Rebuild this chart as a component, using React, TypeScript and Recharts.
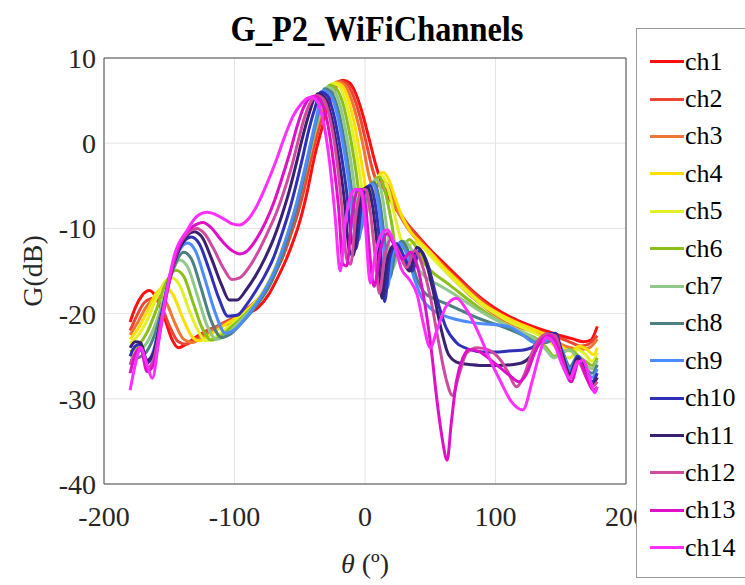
import React from 'react';
import { CartesianGrid, Label, Line, LineChart, ReferenceLine, XAxis, YAxis } from 'recharts';

type Pt = [number, number];

const channelNames = ['ch1', 'ch2', 'ch3', 'ch4', 'ch5', 'ch6', 'ch7', 'ch8', 'ch9', 'ch10', 'ch11', 'ch12', 'ch13', 'ch14'];
const channelColors = [
  '#ff1010', '#ee4433', '#ee7733', '#ffdd00', '#e2f028', '#8cbf1a', '#8fc88a',
  '#4d8080', '#4d8cff', '#2f2fb8', '#3a2070', '#d04aa0', '#e010c8', '#ff30ff',
];
const xTicks = [-200, -100, 0, 100, 200];
const yTicks = [-40, -30, -20, -10, 0, 10];

// theta (deg), gain (dB)
const ch1: Pt[] = [[-180,-21],[-176,-19.3],[-171,-17.9],[-165,-17.3],[-159,-18.4],[-153,-20.8],[-148,-23],[-143,-24],[-137,-23.6],[-130,-22.8],[-120,-21.9],[-110,-21.4],[-100,-21],[-90,-20],[-82,-19.3],[-74,-17.8],[-67,-15.8],[-60,-13.5],[-55,-11.5],[-50,-9.2],[-44,-5.5],[-39,-1.8],[-34,1.2],[-28,4.5],[-23,6.4],[-17,7.4],[-12,7.1],[-7,5.8],[-2,3.5],[3,0.6],[8,-2.4],[13,-4.8],[19,-6.6],[25,-8],[32,-9.4],[40,-10.8],[50,-12.5],[60,-14],[70,-15.5],[80,-17],[90,-18.3],[100,-19.4],[110,-20.3],[120,-21],[130,-21.6],[140,-22.1],[150,-22.6],[160,-23],[167,-23.3],[173,-23.1],[178,-21.5]];
const ch2: Pt[] = [[-180,-22],[-175,-20.3],[-169,-18.7],[-162,-18.2],[-156,-19.2],[-150,-21.4],[-143,-23.3],[-137,-23.6],[-130,-23],[-120,-22],[-110,-21.2],[-100,-20.4],[-92,-19.6],[-84,-18.6],[-76,-17.2],[-69,-15.3],[-62,-13],[-57,-10.8],[-52,-8.5],[-46,-5],[-41,-1.6],[-36,1.4],[-30,4.5],[-25,6.3],[-19,7.3],[-14,7],[-9,5.6],[-4,3.2],[1,0],[6,-3.2],[10,-4.8],[15,-5.3],[20,-6.4],[26,-8],[33,-9.6],[41,-11.1],[50,-12.7],[60,-14.3],[70,-15.8],[80,-17.2],[90,-18.5],[100,-19.7],[110,-20.6],[120,-21.3],[130,-21.9],[140,-22.4],[150,-22.9],[158,-23.4],[165,-23.8],[171,-23.6],[178,-22.6]];
const ch3: Pt[] = [[-180,-22.5],[-174,-21],[-168,-19.3],[-161,-18.2],[-157,-18],[-152,-18.8],[-146,-21],[-139,-23],[-132,-23.4],[-125,-22.8],[-115,-21.8],[-105,-21],[-95,-20.2],[-87,-19.2],[-79,-17.8],[-72,-16],[-65,-13.6],[-59,-11],[-54,-8.6],[-48,-5],[-43,-1.8],[-38,1.3],[-32,4.4],[-27,6.2],[-21,7.2],[-16,6.9],[-11,5.4],[-6,2.8],[-1,-0.6],[3,-3.8],[7,-5.4],[11,-4.8],[15,-4.5],[19,-5.4],[24,-7.6],[31,-9.6],[39,-11.2],[48,-12.7],[58,-14.4],[68,-16],[78,-17.5],[88,-18.8],[98,-20],[108,-20.9],[118,-21.6],[128,-22.1],[138,-22.6],[146,-23.2],[153,-23.8],[160,-24.1],[166,-24.2],[172,-24],[178,-23]];
const ch4: Pt[] = [[-180,-23],[-174,-21.8],[-167,-19.8],[-160,-17.6],[-153,-16.9],[-147,-17.8],[-140,-20.4],[-133,-22.6],[-127,-23.2],[-120,-22.6],[-110,-21.6],[-100,-20.6],[-92,-19.8],[-84,-18.6],[-76,-17],[-69,-14.8],[-63,-12.2],[-57,-9.6],[-51,-6.2],[-45,-2.4],[-40,0.6],[-34,3.9],[-29,6],[-23,7.1],[-18,6.8],[-13,5.2],[-8,2.2],[-3,-2],[1,-5.5],[4,-6.8],[8,-4.8],[11,-3.7],[14,-3.4],[18,-4.2],[23,-6.4],[29,-8.8],[35,-10.4],[42,-11.6],[50,-12.8],[60,-14.5],[70,-16],[80,-17.5],[90,-18.8],[100,-19.8],[110,-20.6],[120,-21.3],[130,-21.9],[140,-22.6],[146,-23.2],[152,-24],[158,-24.4],[164,-23.8],[170,-24.2],[175,-24.8],[178,-24]];
const ch5: Pt[] = [[-180,-23.5],[-174,-22.6],[-167,-20.8],[-160,-18.2],[-153,-16.2],[-148,-15.8],[-142,-16.7],[-135,-19.5],[-128,-22],[-122,-23.2],[-115,-22.8],[-106,-21.7],[-97,-20.6],[-88,-19.4],[-80,-17.9],[-73,-16],[-66,-13.6],[-60,-11],[-54,-8],[-48,-4.4],[-42,-0.8],[-36,3],[-31,5.5],[-25,7],[-20,6.7],[-15,5],[-10,1.8],[-5,-2.6],[-1,-6.5],[2,-7.6],[6,-5],[10,-3.9],[13,-3.8],[17,-5],[22,-8],[27,-11],[32,-12.3],[37,-11.6],[43,-12],[50,-13.2],[60,-14.8],[70,-16.3],[80,-17.7],[90,-19],[100,-20],[110,-20.9],[120,-21.6],[130,-22.3],[138,-22.9],[145,-23.8],[151,-25],[157,-25.2],[163,-24.2],[169,-24.8],[174,-25.6],[178,-24.6]];
const ch6: Pt[] = [[-180,-24.5],[-174,-23.8],[-167,-22.2],[-160,-19.6],[-153,-16.6],[-145,-14.9],[-139,-15.6],[-132,-18.6],[-125,-21.6],[-118,-23.1],[-111,-22.7],[-102,-21.5],[-93,-20.3],[-85,-19],[-77,-17.4],[-70,-15.4],[-64,-13],[-58,-10.3],[-52,-7],[-46,-3.2],[-40,0.6],[-33,4.6],[-27,6.8],[-22,6.4],[-17,4.7],[-12,1.3],[-7,-3.2],[-3,-7.6],[0,-8.8],[4,-5.8],[8,-4.2],[11,-4],[15,-5.4],[20,-9],[25,-13.2],[29,-12.3],[34,-11.3],[40,-12.4],[46,-14.2],[53,-15.3],[62,-16.3],[72,-17.5],[82,-18.7],[92,-19.8],[102,-20.8],[112,-21.6],[122,-22.3],[132,-23],[139,-24],[145,-25],[151,-24.6],[157,-24.2],[163,-24.9],[169,-25.6],[174,-26.1],[178,-25.2]];
const ch7: Pt[] = [[-180,-25],[-174,-24.6],[-167,-23.4],[-160,-21],[-153,-17.6],[-147,-14.8],[-142,-13.7],[-136,-14.5],[-129,-17.6],[-121,-21.4],[-114,-23],[-107,-22.6],[-99,-21.4],[-90,-20],[-82,-18.6],[-75,-17],[-68,-14.8],[-62,-12.3],[-56,-9.4],[-50,-6],[-44,-2.2],[-38,1.6],[-35,3.2],[-29,6.6],[-24,6.2],[-19,4.4],[-14,0.8],[-9,-4],[-5,-8.8],[-2,-9.8],[2,-6.4],[6,-4.6],[9,-4.3],[13,-6],[17,-10.3],[21,-14.8],[25,-13],[30,-11.5],[36,-12.6],[42,-15],[48,-15.9],[56,-16.6],[65,-17.4],[75,-18.4],[85,-19.4],[95,-20.3],[105,-21.1],[115,-21.8],[125,-22.5],[133,-23.3],[139,-24.3],[145,-25.2],[151,-24.5],[157,-24.3],[163,-25.3],[169,-26],[174,-26.5],[178,-25.5]];
const ch8: Pt[] = [[-180,-25.5],[-174,-25.2],[-168,-24.6],[-161,-22.4],[-154,-18.6],[-147,-14.8],[-139,-12.8],[-133,-13.6],[-126,-16.8],[-118,-20.8],[-110,-22.8],[-103,-22.4],[-95,-21.2],[-87,-19.8],[-79,-18.2],[-72,-16.4],[-66,-14.2],[-60,-11.6],[-54,-8.6],[-49,-5.5],[-44,-2],[-39,1.5],[-35,4],[-31,6.4],[-26,6],[-21,4.1],[-16,0.4],[-11,-4.6],[-7,-9.5],[-4,-10.6],[0,-6.8],[4,-4.9],[7,-4.6],[11,-6.6],[15,-11.2],[19,-15.8],[23,-13],[28,-11.5],[34,-13],[40,-16],[46,-17.6],[54,-18.3],[63,-18.9],[73,-19.6],[83,-20.3],[93,-20.9],[103,-21.4],[113,-22],[123,-22.7],[132,-23.4],[139,-23.4],[145,-23],[151,-24.4],[157,-26.2],[163,-25],[169,-26.4],[174,-27],[178,-26]];
const ch9: Pt[] = [[-180,-26],[-176,-24.8],[-172,-24.3],[-167,-25.5],[-162,-24.3],[-156,-20],[-149,-15.4],[-142,-12.5],[-136,-11.7],[-130,-12.6],[-123,-15.8],[-115,-19.8],[-107,-22.3],[-100,-21.9],[-92,-20.6],[-84,-19],[-77,-17.3],[-70,-15.2],[-64,-12.8],[-58,-10],[-52,-6.8],[-47,-3.6],[-42,-0.2],[-37,3.2],[-32,6.2],[-27,5.8],[-22,3.8],[-17,0],[-12,-5],[-8,-10.4],[-5,-11.4],[-1,-7.2],[3,-5],[6,-4.8],[10,-7],[14,-12],[17,-17],[21,-13.2],[26,-11.7],[32,-13],[38,-16],[44,-18.3],[52,-19.6],[60,-20.2],[70,-20.7],[80,-21],[90,-21.2],[100,-21.3],[110,-21.5],[120,-22.4],[130,-23.4],[138,-23.2],[145,-22.6],[151,-24.3],[157,-26.6],[163,-25],[169,-26.5],[174,-27.5],[178,-26.5]];
const ch10: Pt[] = [[-180,-25],[-176,-23.8],[-172,-23.6],[-167,-25.8],[-162,-24.6],[-156,-20.2],[-149,-15.2],[-141,-12],[-133,-11],[-127,-11.8],[-120,-14.6],[-112,-18.2],[-105,-20.3],[-98,-20.2],[-91,-19],[-84,-17.4],[-77,-15.6],[-70,-13.4],[-64,-10.8],[-58,-7.9],[-53,-5],[-48,-1.8],[-43,1.6],[-38,4.3],[-34,6],[-29,5.6],[-24,3.4],[-19,-0.6],[-14,-5.8],[-10,-11.5],[-7,-12.4],[-3,-7.6],[1,-5.2],[4,-5],[8,-7.3],[12,-12.8],[15,-18.6],[19,-13.5],[24,-11.8],[30,-13.3],[36,-15],[42,-12.6],[48,-14.2],[55,-18.2],[62,-21.6],[70,-23.4],[80,-24.2],[90,-24.5],[100,-24.5],[110,-24.4],[120,-24.3],[128,-24],[134,-23],[140,-22.4],[146,-22.3],[151,-24.6],[157,-27],[163,-25],[169,-26.6],[174,-28],[178,-27]];
const ch11: Pt[] = [[-180,-24],[-176,-23.3],[-172,-23.4],[-167,-25.5],[-162,-24.6],[-156,-20.4],[-149,-15.5],[-141,-12],[-131,-10.4],[-125,-11],[-118,-13.4],[-110,-16.6],[-104,-18.4],[-98,-18.4],[-91,-17.2],[-84,-15.6],[-77,-13.6],[-70,-11.2],[-64,-8.6],[-58,-5.6],[-53,-2.6],[-48,0.6],[-43,3.4],[-39,5.2],[-36,5.8],[-31,5.4],[-26,3.2],[-21,-1],[-16,-6.4],[-12,-12.6],[-9,-13.2],[-5,-8],[-1,-5.4],[2,-5.2],[6,-7.6],[10,-13],[13,-18.2],[17,-13.8],[22,-12],[28,-13.5],[34,-15],[40,-12.2],[46,-13.6],[52,-17.2],[58,-21.6],[64,-24.8],[72,-25.8],[82,-26],[92,-26.1],[102,-26.1],[112,-26],[120,-25.8],[127,-25],[133,-23.6],[139,-22.6],[145,-22.4],[151,-24.8],[157,-27.2],[163,-25.3],[169,-27],[174,-28.4],[178,-27.5]];
const ch12: Pt[] = [[-180,-26],[-176,-24.6],[-172,-24],[-167,-26.4],[-162,-25.4],[-156,-20.6],[-149,-15.3],[-141,-11.6],[-129,-10],[-123,-10.6],[-116,-12.4],[-108,-14.8],[-102,-16],[-96,-15.8],[-89,-14.6],[-82,-12.8],[-75,-10.6],[-68,-8.2],[-62,-5.6],[-56,-2.6],[-51,0.4],[-46,3.2],[-41,5],[-37,5.6],[-32,5.2],[-27,3],[-22,-1.5],[-18,-7],[-14,-13.6],[-11,-14.2],[-7,-8.4],[-3,-5.6],[0,-5.4],[4,-8],[8,-13.6],[11,-17.6],[15,-13.4],[20,-11.3],[26,-12.8],[32,-14.6],[38,-12.6],[44,-14.4],[50,-18],[56,-23],[62,-27.6],[67,-29.6],[72,-27.2],[78,-24.6],[86,-24],[95,-24.3],[104,-25.5],[110,-27],[116,-28.6],[122,-27.2],[128,-24.6],[134,-22.9],[140,-22.4],[146,-22.6],[151,-25.2],[157,-27.5],[163,-25.6],[169,-27.3],[174,-28.6],[178,-28]];
const ch13: Pt[] = [[-180,-27],[-176,-24.8],[-172,-24],[-167,-26.8],[-162,-26],[-156,-21.2],[-149,-15.5],[-140,-11.2],[-132,-9.8],[-124,-9.3],[-118,-9.9],[-110,-11.4],[-102,-12.6],[-96,-13],[-90,-12.6],[-83,-11.2],[-76,-9.2],[-69,-6.6],[-63,-3.8],[-57,-0.8],[-52,2],[-47,4.2],[-43,5.2],[-39,5.5],[-34,5],[-29,2.6],[-24,-2.4],[-20,-8],[-17,-14.2],[-14,-14.4],[-10,-8.6],[-6,-5.6],[-3,-5.4],[1,-8.2],[4,-13.6],[7,-16.8],[12,-12.4],[17,-10.6],[23,-12.2],[29,-13.6],[35,-12.8],[41,-15],[46,-19],[51,-24.5],[55,-30],[59,-34.5],[63,-37.2],[66,-33],[70,-28],[75,-25.2],[80,-24.2],[88,-24.5],[96,-25.4],[104,-26.4],[112,-27.4],[118,-28],[124,-27],[130,-24.6],[136,-23],[142,-22.6],[147,-23.6],[152,-26],[158,-28],[164,-25.6],[170,-27.6],[175,-29],[178,-28.6]];
const ch14: Pt[] = [[-180,-29],[-176,-26],[-172,-24],[-167,-26],[-163,-27.6],[-158,-23.2],[-152,-17.4],[-145,-12.6],[-137,-10.4],[-129,-8.6],[-121,-8.1],[-114,-8.4],[-107,-9],[-101,-9.5],[-96,-9.6],[-90,-9],[-83,-7.4],[-75,-4.7],[-68,-2],[-61,1],[-55,3.2],[-49,4.6],[-44,5.3],[-41,5.4],[-37,5],[-32,2.6],[-27,-2.4],[-23,-8.4],[-19,-15],[-15,-9.2],[-11,-6.2],[-7,-5.4],[-3,-5.6],[0,-9],[4,-16.4],[8,-13],[12,-10.8],[17,-10.2],[22,-11.6],[28,-14.8],[34,-16],[40,-17.8],[45,-21.4],[50,-24],[55,-22],[62,-19.2],[70,-18.2],[78,-19.6],[88,-22.6],[96,-25.5],[104,-28],[112,-30.3],[121,-31.3],[128,-28],[134,-24.6],[139,-22.8],[145,-23.6],[151,-26],[157,-27.6],[162,-26],[167,-25.5],[172,-27.5],[176,-29.3],[178,-28.6]];

const channelPoints = [ch1, ch2, ch3, ch4, ch5, ch6, ch7, ch8, ch9, ch10, ch11, ch12, ch13, ch14];

const serif = '"Liberation Serif", "Times New Roman", serif';
const ink = '#262626';

export default function App() {
  const series = channelNames.map((name, i) => ({
    name,
    color: channelColors[i],
    data: channelPoints[i].map(([x, y]) => ({ x, y })),
  }));

  return (
    <div style={{ position: 'absolute', left: 0, top: 0, width: 745, height: 585, background: '#fff', fontFamily: serif, overflow: 'hidden' }}>
      <div
        style={{
          position: 'absolute', left: 0, top: 9, width: 754, textAlign: 'center', fontFamily: serif,
          fontSize: 36, lineHeight: '40px', fontWeight: 'bold', color: '#000', transform: 'scaleX(0.9)',
        }}
      >
        G_P2_WiFiChannels
      </div>

      <LineChart width={745} height={585} margin={{ top: 58, right: 119, bottom: 41, left: 24 }}>
        <CartesianGrid stroke="#e4e4e4" />
        <XAxis
          type="number"
          dataKey="x"
          domain={[-200, 200]}
          ticks={xTicks}
          height={60}
          allowDataOverflow
          tickLine={false}
          tickMargin={16}
          stroke="#4a4a4a"
          tick={{ fontFamily: serif, fontSize: 28, fill: ink }}
        >
          <Label
            content={({ viewBox }: any) => (
              <text x={viewBox.x + viewBox.width / 2} y={viewBox.y + 89} textAnchor="middle" fontFamily={serif} fontSize={28} fill={ink}>
                <tspan fontStyle="italic">θ</tspan> (º)
              </text>
            )}
          />
        </XAxis>
        <YAxis
          type="number"
          domain={[-40, 10]}
          ticks={yTicks}
          width={80}
          allowDataOverflow
          tickLine={false}
          stroke="#4a4a4a"
          tick={{ fontFamily: serif, fontSize: 28, fill: ink }}
        >
          <Label
            content={({ viewBox }: any) => {
              const cx = viewBox.x + 8;
              const cy = viewBox.y + viewBox.height / 2;
              return (
                <text x={cx} y={cy} transform={`rotate(-90, ${cx}, ${cy})`} textAnchor="middle" dominantBaseline="central" fontFamily={serif} fontSize={28} fill={ink}>
                  G(dB)
                </text>
              );
            }}
          />
        </YAxis>
        <ReferenceLine y={10} stroke="#4a4a4a" />
        <ReferenceLine x={200} stroke="#4a4a4a" />
        {series.map((s) => (
          <Line
            key={s.name}
            data={s.data}
            dataKey="y"
            name={s.name}
            type="monotone"
            stroke={s.color}
            strokeWidth={3}
            dot={false}
            activeDot={false}
            isAnimationActive={false}
          />
        ))}
      </LineChart>

      <div
        style={{
          position: 'absolute', left: 636, top: 28, width: 140, height: 550,
          border: '1px solid #9a9a9a', background: '#fff', boxSizing: 'border-box', paddingTop: 14,
        }}
      >
        {series.map((s) => (
          <div key={s.name} style={{ height: 37.4, display: 'flex', alignItems: 'center' }}>
            <div style={{ marginLeft: 13, width: 34, height: 3, background: s.color }} />
            <span style={{ fontFamily: serif, fontSize: 26, color: '#000', marginLeft: 1 }}>{s.name}</span>
          </div>
        ))}
      </div>
    </div>
  );
}
